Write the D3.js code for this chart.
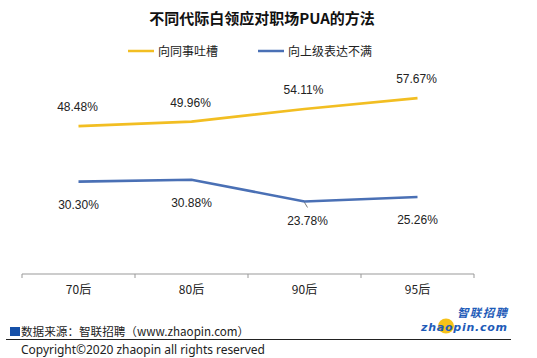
<!DOCTYPE html>
<html><head><meta charset="utf-8">
<script src="https://cdn.jsdelivr.net/npm/d3@7"></script>
<style>
body{margin:0;background:#fff;}
svg{display:block;font-family:"Noto Sans CJK SC","Microsoft YaHei",sans-serif;}
</style></head>
<body><svg id="c" width="537" height="358"></svg>
<script>
const categories = ["70后","80后","90后","95后"];
const seriesNames = ["向同事吐槽","向上级表达不满"];
const complainColleague = [48.48, 49.96, 54.11, 57.67];
const complainBoss = [30.30, 30.88, 23.78, 25.26];
const colors = ["#F2BE22","#4A70B5"];

const svg = d3.select("#c");
const x = d3.scaleBand().domain(categories).range([22, 474]);
const y = d3.scaleLinear().domain([0, 70]).range([274, 60.5]);
const cx = d => x(d) + x.bandwidth()/2;

// title
svg.append("text").attr("x",262).attr("y",24).attr("text-anchor","middle")
  .attr("font-size",15).attr("font-weight","bold").attr("fill","#111")
  .text("不同代际白领应对职场PUA的方法");

// legend
const legendX = [128, 258];
seriesNames.forEach((n,i)=>{
  svg.append("line").attr("x1",legendX[i]).attr("x2",legendX[i]+26)
    .attr("y1",51).attr("y2",51).attr("stroke",colors[i]).attr("stroke-width",2.5);
  svg.append("text").attr("x",legendX[i]+30).attr("y",55.5)
    .attr("font-size",12).attr("fill","#222").text(n);
});

// axis
const axis = d3.axisBottom(x).tickSize(5).tickSizeOuter(5).tickPadding(5);
const g = svg.append("g").attr("transform","translate(0,274)").call(axis);
g.selectAll(".tick line").remove();
const bounds = categories.map(c=>x(c)).concat([x(categories[3])+x.bandwidth()]);
g.selectAll(".bt").data(bounds).enter().append("line")
  .attr("x1",d=>d).attr("x2",d=>d).attr("y1",0).attr("y2",4).attr("stroke","#999");
g.select(".domain").attr("d","M22,0H474").attr("stroke","#999");
g.selectAll(".tick text").attr("font-size",12).attr("fill","#222")
  .attr("font-family","'Noto Sans CJK SC',sans-serif").attr("dy","0.8em");

// lines
const line = d3.line().x((d,i)=>cx(categories[i])).y(d=>y(d));
[complainColleague, complainBoss].forEach((s,i)=>{
  svg.append("path").datum(s).attr("d",line).attr("fill","none")
    .attr("stroke",colors[i]).attr("stroke-width",2.6);
});

// labels
const fmt = v => v.toFixed(2)+"%";
const lab = svg.append("g").attr("font-size",12).attr("fill","#222")
  .attr("font-family","'Liberation Sans','Noto Sans',sans-serif").attr("text-anchor","middle");
complainColleague.forEach((v,i)=>{
  lab.append("text").attr("x",cx(categories[i])-1).attr("y",y(v)-15).text(fmt(v));
});
const bossOff = [23, 23, 20, 23];
const bossDx = [0, 0, 3, 0];
complainBoss.forEach((v,i)=>{
  lab.append("text").attr("x",cx(categories[i])+bossDx[i]).attr("y",y(v)+bossOff[i]+4).text(fmt(v));
});
svg.append("line").attr("x1",cx(categories[2])).attr("y1",y(complainBoss[2])+1)
  .attr("x2",cx(categories[2])+3).attr("y2",y(complainBoss[2])+6)
  .attr("stroke","#555").attr("stroke-width",0.8);

// footer
svg.append("rect").attr("x",10).attr("y",327).attr("width",10).attr("height",9).attr("fill","#1650A8");
svg.append("text").attr("x",21).attr("y",335.5).attr("font-size",11.6).attr("fill","#222")
  .text("数据来源：智联招聘（www.zhaopin.com）");
svg.append("line").attr("x1",6).attr("x2",511).attr("y1",339.5).attr("y2",339.5)
  .attr("stroke","#222").attr("stroke-width",1);
svg.append("text").attr("x",21).attr("y",354).attr("font-size",12).attr("fill","#222")
  .attr("font-family","'Noto Sans','Open Sans',sans-serif").attr("textLength",244)
  .text("Copyright©2020 zhaopin all rights reserved");

// logo
const logo = svg.append("g");
logo.append("ellipse").attr("cx",446).attr("cy",326).attr("rx",8).attr("ry",7.5).attr("fill","#F6C21A");
logo.append("text").attr("x",457).attr("y",317).attr("font-size",11.5).attr("font-weight","bold")
  .attr("font-style","italic").attr("fill","#1E5BB8").attr("textLength",50).text("智联招聘");
logo.append("text").attr("x",421).attr("y",331).attr("font-size",11).attr("font-weight","bold")
  .attr("font-style","italic").attr("font-family","'DejaVu Sans',sans-serif")
  .attr("fill","#1E5BB8").attr("textLength",86).text("zhaopin.com");
</script></body></html>
